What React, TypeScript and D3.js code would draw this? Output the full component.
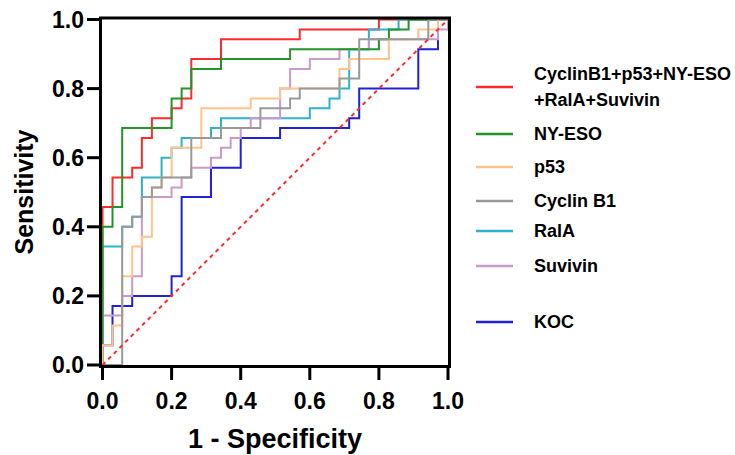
import React from 'react';
import * as d3 from 'd3';

// ROC corner points [1 - specificity, sensitivity]
const combinedRoc = [
  [0, 0], [0, 0.457], [0.029, 0.457], [0.029, 0.543], [0.086, 0.543], [0.086, 0.571],
  [0.114, 0.571], [0.114, 0.657], [0.143, 0.657], [0.143, 0.714], [0.2, 0.714], [0.2, 0.743],
  [0.229, 0.743], [0.229, 0.771], [0.257, 0.771], [0.257, 0.886], [0.343, 0.886], [0.343, 0.943],
  [0.571, 0.943], [0.571, 0.971], [0.8, 0.971], [0.8, 1], [1, 1],
];
const nyEsoRoc = [
  [0, 0], [0, 0.4], [0.029, 0.4], [0.029, 0.457], [0.057, 0.457], [0.057, 0.686], [0.2, 0.686],
  [0.2, 0.771], [0.229, 0.771], [0.229, 0.8], [0.257, 0.8], [0.257, 0.857], [0.343, 0.857],
  [0.343, 0.886], [0.543, 0.886], [0.543, 0.914], [0.8, 0.914], [0.8, 0.943], [0.829, 0.943],
  [0.829, 0.971], [0.886, 0.971], [0.886, 1], [1, 1],
];
const p53Roc = [
  [0, 0], [0, 0.057], [0.029, 0.057], [0.029, 0.114], [0.057, 0.114], [0.057, 0.257], [0.086, 0.257],
  [0.086, 0.343], [0.114, 0.343], [0.114, 0.371], [0.143, 0.371], [0.143, 0.514], [0.171, 0.514],
  [0.171, 0.543], [0.2, 0.543], [0.2, 0.629], [0.286, 0.629], [0.286, 0.743], [0.429, 0.743],
  [0.429, 0.771], [0.514, 0.771], [0.514, 0.8], [0.686, 0.8], [0.686, 0.857], [0.714, 0.857],
  [0.714, 0.886], [0.829, 0.886], [0.829, 0.943], [0.914, 0.943], [0.914, 0.971], [0.971, 0.971],
  [0.971, 1], [1, 1],
];
const cyclinRoc = [
  [0, 0], [0.057, 0], [0.057, 0.4], [0.086, 0.4], [0.086, 0.429], [0.114, 0.429], [0.114, 0.486],
  [0.143, 0.486], [0.143, 0.514], [0.171, 0.514], [0.171, 0.543], [0.257, 0.543], [0.257, 0.657],
  [0.343, 0.657], [0.343, 0.686], [0.457, 0.686], [0.457, 0.743], [0.543, 0.743], [0.543, 0.771],
  [0.571, 0.771], [0.571, 0.8], [0.686, 0.8], [0.686, 0.829], [0.743, 0.829], [0.743, 0.943],
  [0.943, 0.943], [0.943, 1], [1, 1],
];
const ralaRoc = [
  [0, 0], [0, 0.343], [0.057, 0.343], [0.057, 0.4], [0.086, 0.4], [0.086, 0.429], [0.114, 0.429],
  [0.114, 0.543], [0.171, 0.543], [0.171, 0.6], [0.2, 0.6], [0.2, 0.629], [0.229, 0.629],
  [0.229, 0.657], [0.314, 0.657], [0.314, 0.686], [0.343, 0.686], [0.343, 0.714], [0.6, 0.714],
  [0.6, 0.743], [0.657, 0.743], [0.657, 0.771], [0.686, 0.771], [0.686, 0.8], [0.714, 0.8],
  [0.714, 0.914], [0.771, 0.914], [0.771, 0.971], [0.857, 0.971], [0.857, 1], [1, 1],
];
const suvivinRoc = [
  [0, 0], [0, 0.143], [0.057, 0.143], [0.057, 0.2], [0.086, 0.2], [0.086, 0.257], [0.114, 0.257],
  [0.114, 0.486], [0.2, 0.486], [0.2, 0.514], [0.229, 0.514], [0.229, 0.543], [0.257, 0.543],
  [0.257, 0.571], [0.314, 0.571], [0.314, 0.6], [0.343, 0.6], [0.343, 0.629], [0.371, 0.629],
  [0.371, 0.657], [0.4, 0.657], [0.4, 0.686], [0.429, 0.686], [0.429, 0.714], [0.514, 0.714],
  [0.514, 0.8], [0.543, 0.8], [0.543, 0.857], [0.6, 0.857], [0.6, 0.886], [0.686, 0.886],
  [0.686, 0.914], [0.771, 0.914], [0.771, 0.943], [0.971, 0.943], [0.971, 0.971], [1, 0.971], [1, 1],
];
const kocRoc = [
  [0, 0], [0, 0.057], [0.029, 0.057], [0.029, 0.171], [0.086, 0.171], [0.086, 0.2], [0.2, 0.2],
  [0.2, 0.257], [0.229, 0.257], [0.229, 0.486], [0.314, 0.486], [0.314, 0.571], [0.4, 0.571],
  [0.4, 0.657], [0.514, 0.657], [0.514, 0.686], [0.714, 0.686], [0.714, 0.714], [0.743, 0.714],
  [0.743, 0.8], [0.914, 0.8], [0.914, 0.914], [0.971, 0.914], [0.971, 1], [1, 1],
];
const reference = [[0, 0], [1, 1]];

const axisTicks = [0, 0.2, 0.4, 0.6, 0.8, 1.0];

// legend order, top to bottom
const legendItems = [
  { name: ['CyclinB1+p53+NY-ESO', '+RalA+Suvivin'], color: '#ff2b2b', y: 87 },
  { name: ['NY-ESO'], color: '#23942a', y: 134 },
  { name: ['p53'], color: '#ffc48a', y: 167 },
  { name: ['Cyclin B1'], color: '#999999', y: 201 },
  { name: ['RalA'], color: '#2fb1cc', y: 231 },
  { name: ['Suvivin'], color: '#cc99cc', y: 266 },
  { name: ['KOC'], color: '#2121d9', y: 322 },
];

// drawing order, bottom to top
const curves = [
  { data: combinedRoc, color: '#ff2b2b' },
  { data: ralaRoc, color: '#2fb1cc' },
  { data: kocRoc, color: '#2121d9' },
  { data: suvivinRoc, color: '#cc99cc' },
  { data: nyEsoRoc, color: '#23942a' },
  { data: p53Roc, color: '#ffc48a' },
  { data: cyclinRoc, color: '#999999' },
];

const font = '"Liberation Sans", Arial, sans-serif';

export default function App() {
  const x = d3.scaleLinear().domain([0, 1]).range([102.5, 448]);
  const y = d3.scaleLinear().domain([0, 1]).range([365, 19.5]);
  const line = d3.line<number[]>().x(d => x(d[0])).y(d => y(d[1]));

  return (
    <svg width={735} height={455} style={{ position: 'absolute', left: 0, top: 0, background: '#fff' }}
      fontFamily={font} fontWeight="bold">
      {curves.map((c, i) => (
        <path key={i} d={line(c.data) || ''} fill="none" stroke={c.color} strokeWidth={2} />
      ))}
      <path d={line(reference) || ''} fill="none" stroke="#ff2b2b" strokeWidth={2} strokeDasharray="4,4" />

      {/* frame */}
      <rect x={100.5} y={18} width={349} height={348.5} fill="none" stroke="#000" strokeWidth={3} />

      {axisTicks.map(t => (
        <g key={'y' + t}>
          <line x1={87} x2={100.5} y1={y(t)} y2={y(t)} stroke="#000" strokeWidth={3} />
          <text x={84} y={y(t)} textAnchor="end" dominantBaseline="central" fontSize={23}>{t.toFixed(1)}</text>
        </g>
      ))}
      {axisTicks.map(t => (
        <g key={'x' + t}>
          <line x1={x(t)} x2={x(t)} y1={366} y2={380} stroke="#000" strokeWidth={3} />
          <text x={x(t)} y={401} textAnchor="middle" dominantBaseline="central" fontSize={23}>{t.toFixed(1)}</text>
        </g>
      ))}

      <text x={275} y={439} textAnchor="middle" dominantBaseline="central" fontSize={27}>1 - Specificity</text>
      <text transform="translate(24,192) rotate(-90)" textAnchor="middle" dominantBaseline="central" fontSize={25}>Sensitivity</text>

      {legendItems.map(item => (
        <g key={item.name[0]}>
          <line x1={476} x2={513} y1={item.y} y2={item.y} stroke={item.color} strokeWidth={2.5} />
          {item.name.map((s, j) => (
            <text key={s} x={534} y={item.y + (item.name.length > 1 ? (j - 0.5) * 26 : 0)}
              dominantBaseline="central" fontSize={18}>{s}</text>
          ))}
        </g>
      ))}
    </svg>
  );
}
